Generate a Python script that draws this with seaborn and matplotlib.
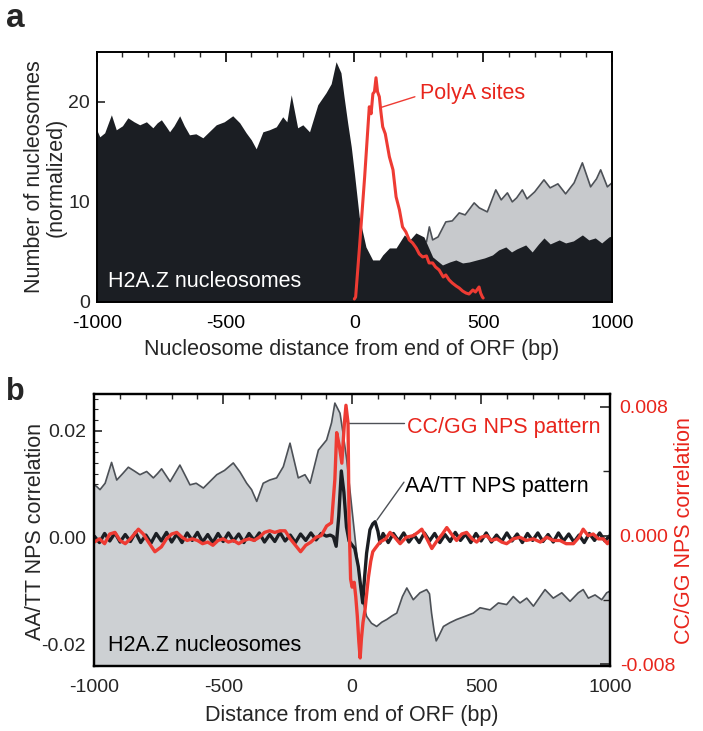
import matplotlib
matplotlib.use("Agg")
import numpy as np
import pandas as pd
import matplotlib.pyplot as plt
import seaborn as sns
from matplotlib.ticker import MultipleLocator

sns.set_theme(style="ticks")
plt.rcParams['font.family'] = ['Liberation Sans', 'DejaVu Sans']

# ---------------- Panel a data ----------------
# H2A.Z nucleosomes (black area)
a_h2az_x = [-1000, -988, -969, -943, -924, -900, -879, -855, -833, -807, -782, -765, -749, -730,
            -717, -700, -678, -660, -640, -615, -588, -560, -536, -505, -472, -445, -420, -400,
            -381, -355, -330, -303, -278, -262, -245, -220, -200, -174, -142, -110, -90, -71,
            -52, -40, -26, -12, 0, 19, 45, 71, 97, 110, 136, 162, 194, 215, 239, 270, 304, 342,
            370, 394, 420, 446, 475, 505, 536, 560, 588, 610, 630, 665, 690, 715, 736, 760, 795,
            820, 850, 885, 910, 935, 960, 988, 1000]
a_h2az_y = [17.2, 16.5, 16.9, 18.7, 17.2, 17.6, 18.4, 18.0, 17.7, 18.0, 17.4, 17.9, 18.2, 17.5,
            17.0, 17.6, 18.6, 17.6, 16.7, 16.8, 16.4, 17.1, 17.7, 18.0, 18.6, 17.9, 16.9, 16.2,
            15.3, 17.0, 17.2, 17.5, 18.5, 18.0, 20.7, 17.4, 17.7, 17.0, 19.7, 20.9, 21.8, 24.0,
            22.9, 20.5, 17.9, 15.5, 12.9, 8.5, 5.5, 4.2, 4.2, 4.7, 5.4, 5.4, 6.7, 6.2, 6.9, 6.5,
            4.5, 3.7, 4.0, 4.2, 3.9, 4.0, 4.2, 4.4, 4.7, 5.2, 5.5, 5.0, 5.3, 5.7, 5.0, 5.8, 6.4,
            5.8, 6.2, 5.9, 6.1, 6.7, 6.2, 6.4, 5.9, 6.5, 6.6]
# all nucleosomes (grey area, visible where above H2A.Z)
a_all_x = [280, 291, 304, 325, 355, 380, 407, 430, 465, 485, 516, 549, 570, 594, 613, 630, 652,
           670, 700, 736, 760, 790, 820, 853, 885, 917, 940, 956, 982, 1000]
a_all_y = [6.0, 7.5, 6.2, 6.5, 8.0, 8.1, 8.9, 8.7, 9.9, 9.4, 9.0, 11.2, 10.2, 10.9, 10.0, 10.4,
           11.2, 10.3, 11.0, 12.2, 11.4, 11.8, 10.8, 11.9, 13.9, 11.5, 12.3, 13.2, 11.5, 11.9]
# PolyA sites (red line)
a_polya_x = [0, 5, 20, 40, 58, 65, 72, 78, 84, 90, 97, 103, 110, 120, 136, 150, 162, 175, 187,
             200, 213, 226, 240, 252, 265, 280, 290, 304, 315, 329, 345, 355, 368, 380, 395, 407,
             420, 433, 445, 460, 470, 484, 490, 497, 500]
a_polya_y = [0.3, 0.5, 5.5, 12.5, 19.5, 18.8, 20.8, 21.0, 22.4, 21.0, 20.5, 19.0, 17.5, 16.8,
             14.5, 13.2, 10.5, 9.2, 7.5, 7.0, 6.2, 5.9, 5.4, 4.8, 4.5, 4.6, 3.9, 3.9, 3.5, 3.2,
             2.5, 2.7, 2.2, 1.9, 1.6, 1.4, 1.1, 0.9, 0.8, 1.2, 1.0, 1.5, 0.9, 0.5, 0.4]

# ---------------- Panel b data ----------------
# H2A.Z nucleosome profile (grey area), AA/TT axis units x1e-3
b_prof_x = [-1000, -991, -978, -958, -933, -913, -890, -868, -845, -823, -797, -771, -755, -739,
            -706, -690, -668, -650, -629, -605, -577, -550, -525, -495, -461, -435, -409, -390,
            -370, -345, -320, -293, -267, -241, -209, -183, -163, -131, -99, -80, -67, -47, -35,
            -21, 0, 20, 40, 56, 75, 95, 115, 134, 155, 173, 195, 212, 237, 263, 289, 300, 308,
            318, 326, 334, 354, 379, 405, 438, 470, 496, 535, 567, 599, 625, 651, 677, 703, 729,
            748, 780, 813, 845, 877, 896, 916, 942, 968, 987, 1000]
b_prof_y = [9.9, 9.6, 9.0, 10.2, 14.1, 10.8, 12.0, 13.2, 12.5, 11.8, 12.4, 11.2, 12.0, 12.9,
            10.5, 11.8, 13.6, 11.9, 9.9, 10.2, 9.3, 10.6, 11.8, 12.6, 14.0, 12.3, 10.2, 9.0,
            6.8, 10.2, 10.8, 11.2, 13.3, 17.7, 11.2, 11.8, 10.2, 16.4, 18.3, 21.5, 25.2, 23.3,
            19.5, 14.6, 5.0, -4.0, -11.5, -14.7, -16.0, -16.6, -15.8, -15.3, -14.6, -14.1,
            -11.0, -9.4, -11.6, -10.3, -9.7, -10.5, -14.1, -17.5, -19.3, -18.6, -16.6, -15.9,
            -15.3, -14.7, -14.1, -13.1, -13.5, -12.2, -12.5, -11.0, -12.2, -11.3, -12.8, -11.0,
            -9.7, -11.3, -10.3, -11.9, -10.3, -9.7, -11.3, -10.7, -11.6, -10.3, -10.0]
# AA/TT NPS pattern (black line), x1e-3
b_aatt_x = [-1000, -980, -960, -940, -920, -900, -880, -860, -840, -820, -800, -780, -760, -740,
            -720, -700, -680, -660, -640, -620, -600, -580, -560, -540, -520, -500, -480, -460,
            -440, -420, -400, -380, -360, -340, -320, -300, -280, -260, -240, -220, -200, -180,
            -160, -140, -120, -100, -85, -73, -62, -52, -42, -32, -22, -12, 0, 10, 24, 34, 41,
            48, 56, 69, 80, 89, 100, 108, 120, 140, 160, 180, 200, 220, 240, 260, 280, 300, 320,
            340, 360, 380, 400, 420, 440, 460, 480, 500, 520, 540, 560, 580, 600, 620, 640, 660,
            680, 700, 720, 740, 760, 780, 800, 820, 840, 860, 880, 900, 920, 940, 960, 980, 1000]
b_aatt_y = [0.3, -0.9, 0.8, -0.6, 0.9, -0.8, 0.6, -0.7, 1.0, -0.9, 0.5, -1.0, 0.8, -0.6,
            1.0, -0.8, 0.7, -0.9, 0.9, -0.5, 1.0, -0.8, 0.6, -0.9, 0.8, -0.7, 0.9, -0.6,
            0.7, -0.9, 0.8, -0.5, 0.9, -0.8, 0.6, -0.7, 1.0, -0.6, 0.5, -0.9, 0.7, -0.5,
            0.9, -0.4, 0.8, 0.3, 0.5, 0.2, -1.6, 4.0, 12.5, 8.5, 2.0, -0.6, -1.4, -2.0, -5.4,
            -9.5, -12.2, -7.5, -2.9, 1.5, 2.6, 3.0, 1.2, -1.0, 0.8, -0.9, 0.8, -0.6, 0.9, -0.8,
            0.5, -0.9, 0.9, -0.6, 0.8, -0.9, 0.6, -0.7, 1.0, -0.5, 0.7, -0.9, 0.8, -0.6, 0.9,
            -0.8, 0.5, -0.7, 0.9, -0.6, 0.7, -0.9, 0.8, -0.5, 0.9, -0.7, 0.6, -0.8, 0.9, -0.6,
            0.7, -0.8, 0.5, -0.9, 0.8, -0.5, 0.9, -0.6, 0.4]
# CC/GG NPS pattern (red line), x1e-3
b_ccgg_x = [-1000, -980, -960, -940, -920, -900, -880, -860, -829, -810, -790, -765, -740, -720,
            -700, -680, -660, -640, -620, -600, -580, -560, -540, -520, -500, -480, -460, -440,
            -420, -400, -380, -360, -340, -320, -300, -280, -260, -240, -220, -200, -180, -160,
            -140, -120, -99, -80, -67, -60, -50, -40, -30, -24, -16, -12, -6, 0, 8, 14, 20, 26,
            31, 36, 42, 50, 57, 63, 72, 80, 89, 108, 130, 147, 165, 186, 210, 237, 255, 270, 290,
            309, 330, 350, 367, 385, 405, 425, 444, 465, 483, 500, 522, 540, 561, 580, 599, 625,
            651, 675, 703, 730, 755, 780, 806, 830, 858, 880, 896, 915, 935, 955, 974, 990, 1000]
b_ccgg_y = [-0.4, -0.2, -0.5, 0.1, 0.2, -0.3, -0.5, -0.2, 0.4, 0.1, -0.4, -1.0, -0.7, -0.2,
            0.1, 0.2, -0.1, -0.3, -0.2, -0.3, -0.5, -0.4, -0.6, -0.3, -0.2, -0.4, -0.3, -0.5,
            -0.3, -0.2, -0.3, -0.1, 0.2, 0.3, 0.2, 0.3, 0.3, -0.2, -0.6, -1.0, -0.6, -0.4,
            -0.1, 0.0, 0.6, 0.8, 3.5, 6.4, 5.6, 4.5, 7.0, 8.1, 7.0, 1.0, -2.7, -3.2, -2.9, -3.8,
            -5.0, -6.6, -7.6, -6.4, -5.4, -4.6, -3.5, -2.6, -1.6, -1.0, -0.8, -0.4, -0.2, 0.2,
            -0.1, -0.5, -0.1, 0.0, 0.2, 0.4, -0.2, -0.8, -0.3, 0.1, 0.5, 0.1, -0.3, 0.1, 0.2,
            -0.2, -0.4, -0.1, 0.0, -0.3, -0.2, -0.4, -0.5, -0.2, -0.1, -0.3, -0.2, -0.4, -0.1,
            -0.3, -0.3, -0.5, -0.5, -0.1, 0.4, 0.0, 0.1, -0.2, -0.2, -0.5, -0.3]

xticks = [-1000, -500, 0, 500, 1000]
xtick_labels = ["-1000", "-500", "0", "500", "1000"]

# ---------------- Figure ----------------
W, H = 703, 731
fig = plt.figure(figsize=(W / 100, H / 100), dpi=100)
fig.patch.set_facecolor("white")

def px_axes(l, t, r, b):
    return [l / W, 1 - b / H, (r - l) / W, (b - t) / H]

BLACK = "#1b1e23"
RED = "#ee3b33"
TXTRED = "#e8251c"
GREY_FILL_A = "#c7c9cc"
GREY_FILL_B = "#cdd0d3"
GREY_LINE = "#4d5157"
TICK_FS = 14
LAB_FS = 15.5

# ---------- panel a ----------
axA = fig.add_axes(px_axes(96.7, 51.7, 612, 302))
axA.set_facecolor("white")
axA.fill_between(a_all_x, 0, a_all_y, color=GREY_FILL_A, lw=0, zorder=1)
sns.lineplot(x=a_all_x, y=a_all_y, ax=axA, color=GREY_LINE, lw=1.2, zorder=1.5,
             estimator=None, sort=False)
axA.fill_between(a_h2az_x, 0, a_h2az_y, color=BLACK, lw=0, zorder=2)
sns.lineplot(x=a_polya_x, y=a_polya_y, ax=axA, color=RED, lw=2.2, zorder=3,
             estimator=None, sort=False)
axA.plot([99.5, 235], [19.4, 20.5], color=RED, lw=1.0, zorder=3)
axA.text(255, 20.27, "PolyA sites", color=TXTRED, fontsize=LAB_FS, ha="left", va="baseline")
axA.text(-956, 1.47, "H2A.Z nucleosomes", color="white", fontsize=LAB_FS, ha="left",
         va="baseline", zorder=4)
axA.set_xlim(-1000, 1000)
axA.set_ylim(0, 25)
axA.set_xticks(xticks)
axA.set_xticklabels(xtick_labels)
axA.set_yticks([0, 10, 20])
axA.set_yticklabels(["0", "10", "20"])
axA.xaxis.set_minor_locator(MultipleLocator(100))
axA.tick_params(axis="x", which="major", direction="in", top=True, bottom=True,
                length=7, width=1.2, labelsize=TICK_FS, pad=9, colors="black")
axA.tick_params(axis="x", which="minor", direction="in", top=True, bottom=False,
                length=3.5, width=1.0)
axA.tick_params(axis="y", which="major", direction="in", left=True, right=False,
                length=6, width=1.2, labelsize=TICK_FS, pad=5)
for t in axA.xaxis.get_major_ticks():
    t.tick1line.set_color("white")
for s in axA.spines.values():
    s.set_linewidth(1.4)
    s.set_color("black")
    s.set_zorder(5)
axA.set_xlabel("")
axA.set_ylabel("")

# ---------- panel b ----------
axB = fig.add_axes(px_axes(94.3, 394, 610, 666))
axB.set_facecolor("white")
b_prof = np.array(b_prof_y) * 1e-3
axB.fill_between(b_prof_x, -1, b_prof, color=GREY_FILL_B, lw=0, zorder=1)
sns.lineplot(x=b_prof_x, y=b_prof, ax=axB, color=GREY_LINE, lw=1.2, zorder=1.5,
             estimator=None, sort=False)
sns.lineplot(x=b_aatt_x, y=np.array(b_aatt_y) * 1e-3, ax=axB, color=BLACK, lw=2.4, zorder=3,
             estimator=None, sort=False)
axB.plot([-20, 201], [0.0215, 0.0215], color=GREY_LINE, lw=1.0, zorder=3)
axB.plot([201, 96], [0.0104, 0.0033], color=GREY_LINE, lw=1.0, zorder=3)
axB.text(213, 0.01965, "CC/GG NPS pattern", color=TXTRED, fontsize=LAB_FS, ha="left",
         va="baseline")
axB.text(205, 0.00855, "AA/TT NPS pattern", color="black", fontsize=LAB_FS, ha="left",
         va="baseline")
axB.text(-946, -0.02115, "H2A.Z nucleosomes", color="black", fontsize=LAB_FS, ha="left",
         va="baseline")
axB.set_xlim(-1000, 1000)
axB.set_ylim(-0.0240, 0.0269)
axB.set_xticks(xticks)
axB.set_xticklabels(xtick_labels)
axB.set_yticks([-0.02, 0.0, 0.02])
axB.set_yticklabels(["-0.02", "0.00", "0.02"])
axB.xaxis.set_minor_locator(MultipleLocator(100))
axB.yaxis.set_minor_locator(MultipleLocator(0.002))
axB.tick_params(axis="x", which="major", direction="in", top=True, bottom=True,
                length=7, width=1.2, labelsize=TICK_FS, pad=9)
axB.tick_params(axis="x", which="minor", direction="in", top=True, bottom=False,
                length=3.5, width=1.0)
axB.tick_params(axis="y", which="major", direction="in", left=True, right=False,
                length=6, width=1.2, labelsize=TICK_FS, pad=6)
axB.tick_params(axis="y", which="minor", direction="in", left=True, right=False,
                length=3, width=0.8)
axB.set_xlabel("")
axB.set_ylabel("")

axB2 = axB.twinx()
sns.lineplot(x=b_ccgg_x, y=np.array(b_ccgg_y) * 1e-3, ax=axB2, color=RED, lw=2.4, zorder=4,
             estimator=None, sort=False)
axB2.set_ylim(-0.0081, 0.0088)
axB2.set_yticks([-0.008, 0.0, 0.008])
axB2.set_yticklabels(["-0.008", "0.000", "0.008"])
axB2.yaxis.set_minor_locator(MultipleLocator(0.004))
axB2.tick_params(axis="y", which="major", direction="in", right=True, left=False,
                 length=7, width=1.2, labelsize=TICK_FS, pad=7, labelcolor=TXTRED)
axB2.tick_params(axis="y", which="minor", direction="in", right=True, left=False,
                 length=5, width=1.0)
axB2.set_ylabel("")
axB2.set_xlabel("")
for ax in (axB, axB2):
    for s in ax.spines.values():
        s.set_linewidth(1.6)
        s.set_color("black")
        s.set_zorder(6)

# ---------- axis labels and panel letters ----------
fig.text(35 / W, 1 - 177 / H, "Number of nucleosomes", rotation=90, ha="center", va="center",
         fontsize=LAB_FS)
fig.text(56 / W, 1 - 177 / H, "(normalized)", rotation=90, ha="center", va="center",
         fontsize=LAB_FS)
fig.text(352 / W, 1 - 349 / H, "Nucleosome distance from end of ORF (bp)", ha="center",
         va="center", fontsize=LAB_FS)
fig.text(36 / W, 1 - 531 / H, "AA/TT NPS correlation", rotation=90, ha="center", va="center",
         fontsize=LAB_FS)
fig.text(684 / W, 1 - 531 / H, "CC/GG NPS correlation", rotation=90, ha="center",
         va="center", fontsize=LAB_FS, color=TXTRED)
fig.text(352 / W, 1 - 715 / H, "Distance from end of ORF (bp)", ha="center", va="center",
         fontsize=LAB_FS)
fig.text(6 / W, 1 - 27 / H, "a", fontsize=24, fontweight="bold", ha="left", va="baseline")
fig.text(6 / W, 1 - 400 / H, "b", fontsize=22, fontweight="bold", ha="left", va="baseline")

fig.savefig("out.png", dpi=100, facecolor="white")
